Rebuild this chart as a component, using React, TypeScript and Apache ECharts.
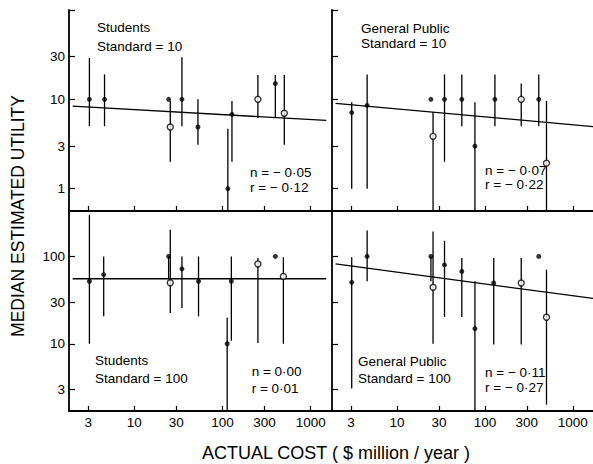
import React, { useEffect, useRef } from 'react';
import * as echarts from 'echarts';

// ---- tick values ----
const xTickValues = [3, 10, 30, 100, 300, 1000];
const yTicksTop = [1, 3, 10, 30, 100];
const yLabelsTop = [1, 3, 10, 30];
const yTicksBottom = [3, 10, 30, 100];

// ---- Students, Standard = 10 ----
const tlFilled = [[3.1, 10], [4.6, 10], [24.5, 10], [34.7, 10], [52.7, 4.9], [115, 1.0], [128, 6.8], [397, 15]];
const tlOpen = [[25.6, 4.9], [252, 10], [502, 7]];
const tlBars = [[3.1, 5.0, 29], [4.6, 5.0, 19], [25.6, 2.0, 9.6], [34.7, 5.0, 29.6], [52.7, 3.1, 10], [115, 0.5, 4.7], [128, 2.0, 9.6], [252, 6.2, 18.7], [397, 6.2, 18.7], [502, 3.1, 18.7]];
const tlFit = [[2, 8.4], [1500, 5.8]];

// ---- General Public, Standard = 10 ----
const trFilled = [[3.05, 7.1], [4.57, 8.55], [24.3, 10], [34.7, 10], [54.6, 10], [77, 3.0], [130, 10], [410, 10]];
const trOpen = [[25.7, 3.85], [259, 10], [502, 1.93]];
const trBars = [[3.05, 1.0, 9.3], [4.57, 1.0, 19], [25.7, 0.5, 7.2], [34.7, 2.0, 19], [54.6, 5.0, 19], [77, 0.5, 9.3], [130, 5.0, 19], [259, 5.0, 15], [410, 5.0, 19], [502, 0.5, 9.6]];
const trFit = [[2, 9.0], [1700, 4.95]];

// ---- Students, Standard = 100 ----
const blFilled = [[3.1, 52], [4.5, 62], [24.5, 100], [34.7, 72], [53.5, 52], [113, 10], [126, 52], [397, 100]];
const blOpen = [[25.6, 50], [252, 82], [490, 59]];
const blBars = [[3.1, 10, 300], [4.5, 20.6, 100], [24.5, 56, 100], [25.6, 22.5, 202], [34.7, 25.7, 100], [53.5, 20.6, 100], [113, 1.5, 19.8], [126, 10.8, 100], [252, 10.2, 96], [490, 10, 98]];
const blFit = [[2, 55.5], [1500, 55.5]];

// ---- General Public, Standard = 100 ----
const brFilled = [[3.05, 50.5], [4.57, 100], [24.3, 100], [34.7, 80], [54.6, 67.4], [77, 14.9], [126, 49.6], [410, 100]];
const brOpen = [[25.7, 44.3], [259, 49.6], [502, 20.1]];
const brBars = [[3.05, 3.08, 98], [4.57, 52, 198], [24.3, 52, 100], [25.7, 10, 193], [34.7, 20.3, 151], [54.6, 20.3, 96], [77, 1.5, 52], [126, 9.8, 96], [259, 9.8, 96], [502, 2.0, 70.5]];
const brFit = [[2, 82], [1700, 33]];

const panelTitles = [
  ['Students', 'Standard = 10'],
  ['General Public', 'Standard = 10'],
  ['Students', 'Standard = 100'],
  ['General Public', 'Standard = 100'],
];
const panelStats = [
  ['n = − 0·05', 'r = − 0·12'],
  ['n = − 0·07', 'r = − 0·22'],
  ['n = 0·00', 'r = 0·01'],
  ['n = − 0·11', 'r = − 0·27'],
];

const FONT = "'Liberation Sans', Arial, sans-serif";
const L = (v: number) => Math.log10(v);

export default function App() {
  const ref = useRef<HTMLDivElement>(null);

  useEffect(() => {
    const chart = echarts.init(ref.current!, null, { renderer: 'svg' });

    const panels = [
      { filled: tlFilled, open: tlOpen, bars: tlBars, fit: tlFit },
      { filled: trFilled, open: trOpen, bars: trBars, fit: trFit },
      { filled: blFilled, open: blOpen, bars: blBars, fit: blFit },
      { filled: brFilled, open: brOpen, bars: brBars, fit: brFit },
    ];

    const grids = [
      { left: 69, top: 10, width: 262, height: 201 },
      { left: 332, top: 10, width: 262, height: 201 },
      { left: 69, top: 211, width: 262, height: 200 },
      { left: 332, top: 211, width: 262, height: 200 },
    ];

    const xAxes = grids.map((_, i) => ({
      type: 'value',
      gridIndex: i,
      min: 0.26,
      max: 3.23,
      axisLine: { show: true, onZero: false, lineStyle: { color: '#000', width: 1.8 } },
      splitLine: { show: false },
      axisTick: {
        show: true,
        inside: true,
        length: 5,
        customValues: xTickValues.map(L),
        lineStyle: { color: '#000', width: 1.2 },
      },
      axisLabel: {
        show: i >= 2,
        customValues: xTickValues.map(L),
        formatter: (v: number) => String(Math.round(Math.pow(10, v))),
        color: '#000',
        fontSize: 13.5,
        fontFamily: FONT,
        margin: 4,
      },
    }));

    const yAxes = grids.map((_, i) => {
      const top = i < 2;
      return {
        type: 'value',
        gridIndex: i,
        min: top ? -0.25 : 0.23,
        max: top ? 2.0 : 2.52,
        axisLine: { show: true, onZero: false, lineStyle: { color: '#000', width: 1.8 } },
        splitLine: { show: false },
        axisTick: {
          show: true,
          inside: true,
          length: 6,
          customValues: (top ? yTicksTop : yTicksBottom).map(L),
          lineStyle: { color: '#000', width: 1.2 },
        },
        axisLabel: {
          show: i % 2 === 0,
          customValues: (top ? yLabelsTop : yTicksBottom).map(L),
          formatter: (v: number) => String(Math.round(Math.pow(10, v))),
          color: '#000',
          fontSize: 13.5,
          fontFamily: FONT,
          margin: 4,
        },
      };
    });

    const series: any[] = [];
    panels.forEach((p, i) => {
      series.push({
        type: 'line',
        xAxisIndex: i,
        yAxisIndex: i,
        data: p.fit.map(([x, y]) => [L(x), L(y)]),
        symbol: 'none',
        lineStyle: { color: '#000', width: 1.3 },
        silent: true,
        z: 2,
      });
      series.push({
        type: 'custom',
        xAxisIndex: i,
        yAxisIndex: i,
        data: p.bars.map(([x, lo, hi]) => [L(x), L(lo), L(hi)]),
        encode: { x: 0, y: [1, 2] },
        renderItem: (params: any, api: any) => {
          const x = api.value(0);
          const a = api.coord([x, api.value(1)]);
          const b = api.coord([x, api.value(2)]);
          const cs = params.coordSys;
          return {
            type: 'line',
            shape: {
              x1: a[0],
              y1: Math.min(a[1], cs.y + cs.height),
              x2: b[0],
              y2: Math.max(b[1], cs.y),
            },
            style: { stroke: '#000', lineWidth: 1.3 },
          };
        },
        silent: true,
        z: 2,
      });
      series.push({
        type: 'scatter',
        xAxisIndex: i,
        yAxisIndex: i,
        data: p.filled.map(([x, y]) => [L(x), L(y)]),
        symbol: 'circle',
        symbolSize: 5,
        itemStyle: { color: '#000' },
        silent: true,
        z: 3,
      });
      series.push({
        type: 'scatter',
        xAxisIndex: i,
        yAxisIndex: i,
        data: p.open.map(([x, y]) => [L(x), L(y)]),
        symbol: 'circle',
        symbolSize: 6,
        itemStyle: { color: '#fff', borderColor: '#000', borderWidth: 1.4 },
        silent: true,
        z: 4,
      });
    });

    const titlePos = [
      [97, 27, 46],
      [361, 28, 43.7],
      [95, 360.5, 378.3],
      [358, 361.8, 378.8],
    ];
    const statPos = [
      [250, 172.5, 187.5],
      [485, 170.8, 184.8],
      [251.7, 371.5, 388.8],
      [485, 372.5, 387.5],
    ];

    const txt = (x: number, y: number, text: string, size = 13.5, extra: any = {}) => ({
      type: 'text',
      x,
      y,
      silent: true,
      ...extra,
      style: {
        text,
        fill: '#000',
        fontSize: size,
        fontFamily: FONT,
        textAlign: extra.align || 'left',
        textVerticalAlign: 'middle',
      },
    });

    const graphics: any[] = [];
    panelTitles.forEach((t, i) => {
      graphics.push(txt(titlePos[i][0], titlePos[i][1], t[0]));
      graphics.push(txt(titlePos[i][0], titlePos[i][2], t[1]));
    });
    panelStats.forEach((t, i) => {
      graphics.push(txt(statPos[i][0], statPos[i][1], t[0]));
      graphics.push(txt(statPos[i][0], statPos[i][2], t[1]));
    });
    graphics.push(txt(336, 453, 'ACTUAL COST ( $ million / year )', 18, { align: 'center' }));
    graphics.push(txt(18, 216, 'MEDIAN ESTIMATED UTILITY', 17.5, { align: 'center', rotation: Math.PI / 2 }));

    chart.setOption({
      animation: false,
      backgroundColor: '#fff',
      grid: grids,
      xAxis: xAxes,
      yAxis: yAxes,
      series,
      graphic: graphics,
    });

    return () => chart.dispose();
  }, []);

  return (
    <div
      ref={ref}
      style={{ position: 'fixed', left: 0, top: 0, width: 593, height: 464, background: '#fff' }}
    />
  );
}
